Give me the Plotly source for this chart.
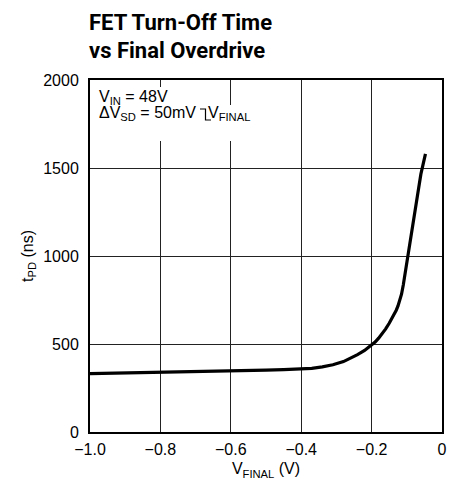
import plotly.graph_objects as go

# Data
v_final = [-1.0, -0.9, -0.8, -0.7, -0.6, -0.5, -0.45, -0.4, -0.37, -0.34, -0.31,
           -0.28, -0.26, -0.24, -0.22, -0.20, -0.19, -0.18, -0.17, -0.16, -0.15,
           -0.14, -0.13, -0.125, -0.12, -0.115, -0.11, -0.105, -0.10, -0.09,
           -0.08, -0.07, -0.06, -0.047]
t_pd = [332, 335, 338, 342, 346, 351, 354, 358, 362, 370, 382,
        400, 418, 440, 463, 492, 511, 533, 558, 586, 618,
        652, 692, 716, 745, 783, 835, 895, 960, 1090,
        1215, 1340, 1465, 1580]

x_tickvals = [-1.0, -0.8, -0.6, -0.4, -0.2, 0]
x_ticktext = ["\u22121.0", "\u22120.8", "\u22120.6", "\u22120.4", "\u22120.2", "0"]
y_tickvals = [0, 500, 1000, 1500, 2000]
y_ticktext = ["0", "500", "1000", "1500", "2000"]

FONT = "Liberation Sans"
TFONT = "Roboto"
W, H = 454, 488
L, R, T, B = 90, 12, 80, 56
PW, PH = W - L - R, H - T - B


def px(xp):
    return (xp - L) / PW


def py(yp):
    return (H - B - yp) / PH


fig = go.Figure()
fig.add_trace(go.Scatter(x=v_final, y=t_pd, mode="lines",
                         line=dict(color="black", width=3.2),
                         showlegend=False, hoverinfo="skip"))

shapes = [
    dict(type="rect", xref="paper", yref="paper", x0=px(95), x1=px(175), y0=py(105), y1=py(87),
         fillcolor="white", line=dict(width=0), layer="above"),
    dict(type="rect", xref="paper", yref="paper", x0=px(95), x1=px(268), y0=py(141), y1=py(105),
         fillcolor="white", line=dict(width=0), layer="above"),
    dict(type="path", xref="paper", yref="paper",
         path=f"M {px(200)} {py(109)} L {px(205.5)} {py(109)} L {px(205.5)} {py(120)} L {px(211)} {py(120)}",
         line=dict(color="black", width=1.2), layer="above"),
]

ann_font = dict(family=FONT, size=16, color="black")
annotations = [
    dict(text="V<sub>IN</sub> = 48V", xref="paper", yref="paper", x=px(97), y=py(86),
         xanchor="left", yanchor="top", showarrow=False, font=ann_font),
    dict(text="\u0394V<sub>SD</sub> = 50mV", xref="paper", yref="paper", x=px(97), y=py(102),
         xanchor="left", yanchor="top", showarrow=False, font=ann_font),
    dict(text="V<sub>FINAL</sub>", xref="paper", yref="paper", x=px(206), y=py(102),
         xanchor="left", yanchor="top", showarrow=False, font=ann_font),
    dict(text="<b>FET Turn-Off Time</b>", xref="paper", yref="paper",
         x=px(87), y=py(8), xanchor="left", yanchor="top", showarrow=False,
         font=dict(family=TFONT, size=22, color="black")),
    dict(text="<b>vs Final Overdrive</b>", xref="paper", yref="paper",
         x=px(87), y=py(36), xanchor="left", yanchor="top", showarrow=False,
         font=dict(family=TFONT, size=22, color="black")),
]

fig.update_layout(
    width=W, height=H,
    margin=dict(l=L, r=R, t=T, b=B, autoexpand=False),
    paper_bgcolor="white", plot_bgcolor="white",
    font=dict(family=FONT, size=16, color="black"),
    shapes=shapes,
    annotations=annotations,
    xaxis=dict(range=[-1.0, 0], tickvals=x_tickvals, ticktext=x_ticktext,
               showgrid=True, gridcolor="#222222", gridwidth=1,
               showline=True, linecolor="black", linewidth=2, mirror=True,
               ticks="", zeroline=False, automargin=False, ticklabelstandoff=2,
               title=dict(text="V<sub>FINAL</sub> (V)", font=dict(family=FONT, size=16), standoff=6),
               tickfont=dict(family=FONT, size=16)),
    yaxis=dict(range=[0, 2000], tickvals=y_tickvals, ticktext=y_ticktext,
               showgrid=True, gridcolor="#222222", gridwidth=1,
               showline=True, linecolor="black", linewidth=2, mirror=True,
               ticks="", zeroline=False, automargin=False, ticklabelstandoff=6,
               title=dict(text="t<sub>PD</sub> (ns)", font=dict(family=FONT, size=16), standoff=6),
               tickfont=dict(family=FONT, size=16)),
)

fig.write_html("out.html", config={"displayModeBar": False},
               post_script="document.body.style.margin='0px';document.body.style.overflow='hidden';")
